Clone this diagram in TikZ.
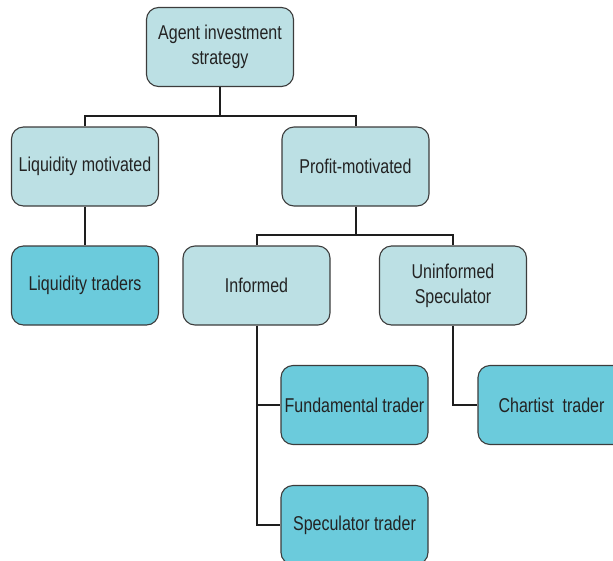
\documentclass[tikz,border=0pt]{standalone}
\usepackage{fontspec}
\setmainfont[FakeStretch=0.8]{Liberation Sans}
\definecolor{lightbox}{RGB}{188,224,228}
\definecolor{darkbox}{RGB}{107,203,220}
\definecolor{edge}{RGB}{60,60,60}
\definecolor{wire}{RGB}{30,30,30}
\definecolor{txt}{RGB}{35,35,35}
\tikzset{
  box/.style={draw=edge, line width=1.1pt, rounded corners=12pt, minimum width=147pt, minimum height=79pt,
    align=center, text=txt, font=\fontsize{20}{25}\selectfont, inner sep=1pt},
  lbox/.style={box, fill=lightbox},
  dbox/.style={box, fill=darkbox},
  wirestyle/.style={draw=wire, line width=2pt}
}
\begin{document}
\begin{tikzpicture}[x=1pt,y=-1pt]
\useasboundingbox (0,0) rectangle (613,560);
\clip (0,0) rectangle (613,560);
\node[lbox] (agent) at (220,47) {Agent investment\\strategy};
\node[lbox] (liqmot) at (85,166.5) {Liquidity motivated};
\node[lbox] (profit) at (355.5,166.5) {Profit-motivated};
\node[dbox] (liqtr) at (85,285.5) {Liquidity traders};
\node[lbox] (informed) at (256.5,285.5) {Informed};
\node[lbox] (uninf) at (453,285.5) {Uninformed\\Speculator};
\node[dbox] (fund) at (354.5,405) {Fundamental trader};
\node[dbox] (chart) at (551.5,405) {Chartist\ \ trader};
\node[dbox] (spec) at (354.5,525) {Speculator trader};
\draw[wirestyle] (agent.south) -- ++(0,29) coordinate (j1);
\draw[wirestyle] (liqmot.north) |- (j1) -| (profit.north);
\draw[wirestyle] (liqmot.south) -- (liqtr.north);
\draw[wirestyle] (profit.south) -- ++(0,28.5) coordinate (j2);
\draw[wirestyle] (informed.north) |- (j2) -| (uninf.north);
\draw[wirestyle] (informed.south) |- (fund.west);
\draw[wirestyle] (informed.south) |- (spec.west);
\draw[wirestyle] (uninf.south) |- (chart.west);
\end{tikzpicture}
\end{document}
